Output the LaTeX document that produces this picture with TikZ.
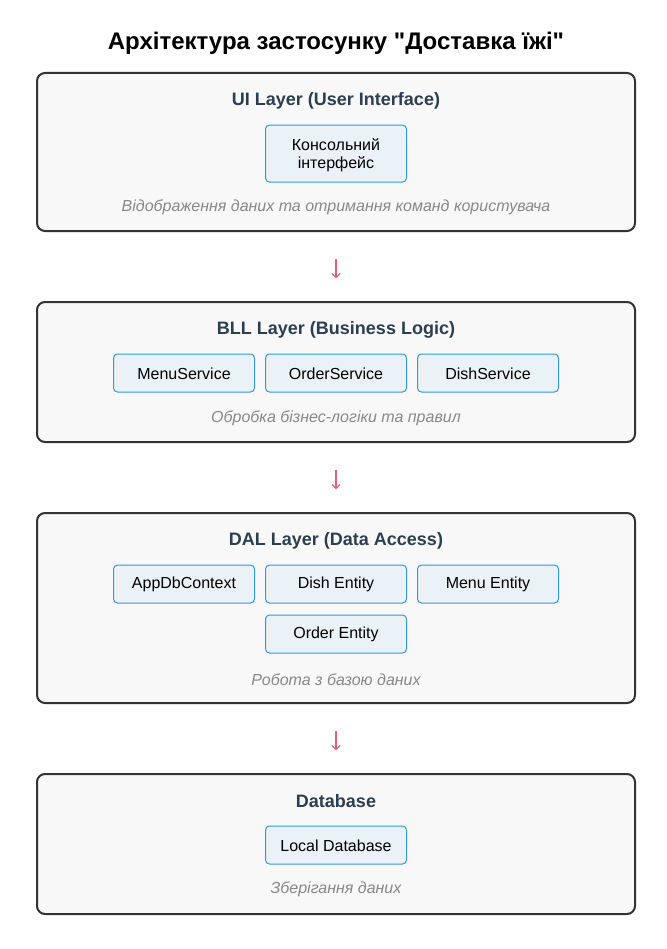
\documentclass[tikz,border=0pt]{standalone}
\usepackage{fontspec}
\setmainfont{Liberation Sans}
\usepackage{xcolor}
\usepackage{tikz}
\usetikzlibrary{arrows.meta, positioning}

\definecolor{layerline}{HTML}{333333}
\definecolor{layerfill}{HTML}{F8F8F8}
\definecolor{compline}{HTML}{3498DB}
\definecolor{compfill}{HTML}{EAF2F8}
\definecolor{headcol}{HTML}{2C3E50}
\definecolor{desccol}{HTML}{888888}
\definecolor{arrowcol}{HTML}{E0607E}

\newcommand{\lowered}[1]{\raisebox{-0.6pt}[\height][\depth]{#1}}

\begin{document}
\begin{tikzpicture}[x=0.75pt, y=-0.75pt,
  layer/.style={draw=layerline, line width=1.5pt, fill=layerfill, rounded corners=6pt, minimum width=448.5pt},
  comp/.style={draw=compline, line width=0.75pt, fill=compfill, rounded corners=3pt, minimum width=105.75pt, minimum height=28.5pt, inner sep=0pt, font=\fontsize{12}{13.5}\selectfont, align=center},
  head/.style={font=\bfseries\fontsize{13.5}{16}\selectfont, text=headcol, inner sep=0pt},
  desc/.style={font=\itshape\fontsize{12}{14}\selectfont, text=desccol, inner sep=0pt},
  flow/.style={draw=arrowcol, line width=0.9pt, -{Straight Barb[length=3pt, width=6pt]}}]
\useasboundingbox (0,0) rectangle (667,949);
\node[font=\bfseries\fontsize{18}{21}\selectfont, inner sep=0pt] (title) at (336,43.5) {Архітектура застосунку \textquotedbl Доставка їжі\textquotedbl};

% layers
\node[layer, minimum height=118.5pt] (ui) at (336,152) {};
\node[layer, minimum height=105pt] (bll) at (336,372) {};
\node[layer, minimum height=142.5pt] (dal) at (336,608) {};
\node[layer, minimum height=105pt] (db) at (336,844) {};

% UI
\node[head] (uiTitle) at (336,100.5) {UI Layer (User Interface)};
\node[comp, minimum height=42.75pt] (console) at (336,153.5) {\raisebox{-1.8pt}[\height][\depth]{\begin{tabular}{@{}c@{}}Консольний\\[0.5pt]інтерфейс\end{tabular}}};
\node[desc] (uiDesc) at (336,207.5) {Відображення даних та отримання команд користувача};

% BLL
\node[head] (bllTitle) at (336,329.5) {BLL Layer (Business Logic)};
\node[comp] (orderSrv) at (336,373) {\lowered{OrderService}};
\node[comp] (menuSrv) at (184,373) {\lowered{MenuService}};
\node[comp] (dishSrv) at (488,373) {\lowered{DishService}};
\node[desc] (bllDesc) at (336,418.5) {Обробка бізнес-логіки та правил};

% DAL
\node[head] (dalTitle) at (336,540.5) {DAL Layer (Data Access)};
\node[comp] (ctx) at (184,584) {\lowered{AppDbContext}};
\node[comp] (dishEnt) at (336,584) {\lowered{Dish Entity}};
\node[comp] (menuEnt) at (488,584) {\lowered{Menu Entity}};
\node[comp] (orderEnt) at (336,634) {\lowered{Order Entity}};
\node[desc] (dalDesc) at (336,679.5) {Робота з базою даних};

% Database
\node[head] (dbTitle) at (336,801.5) {Database};
\node[comp] (localDb) at (336,845) {\lowered{Local Database}};
\node[desc] (dbDesc) at (336,889.5) {Зберігання даних};

\draw[flow, shorten <=20pt, shorten >=17pt] (ui) -- (bll);
\draw[flow, shorten <=20pt, shorten >=17pt] (bll) -- (dal);
\draw[flow, shorten <=20pt, shorten >=17pt] (dal) -- (db);
\end{tikzpicture}
\end{document}
